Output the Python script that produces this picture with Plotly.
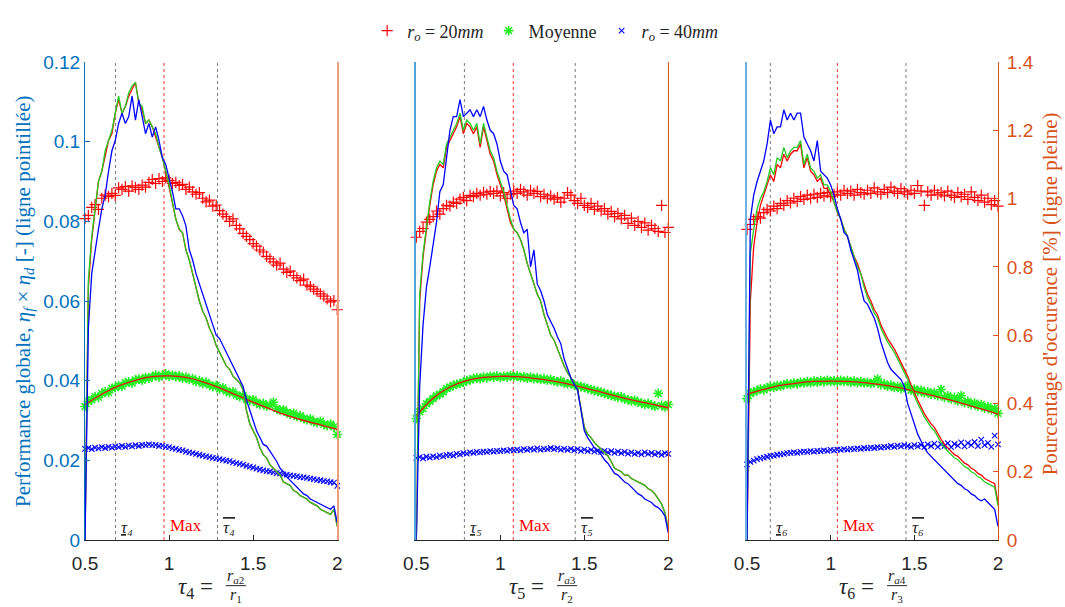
import plotly.graph_objects as go

# Sampling grid of the geometric ratio (common to every curve)
TAU = [round(0.5 + 0.02 * i, 2) for i in range(76)]
FIT_TAU = [0.5, 0.6, 0.7, 0.8, 0.9, 1.0, 1.1, 1.2, 1.3, 1.4, 1.5, 1.6, 1.7, 1.8, 1.9, 2.0]

# ---------------- tau4 = r_a2 / r_1 ----------------
occ20_t4 = [0, 0.74, 0.88, 0.97, 1.05, 1.08, 1.13, 1.17, 1.19, 1.25,
            1.29, 1.25, 1.27, 1.30, 1.32, 1.34, 1.28, 1.26, 1.22, 1.23,
            1.21, 1.18, 1.15, 1.12, 1.08, 1.03, 0.99, 0.94, 0.91, 0.90,
            0.85, 0.82, 0.78, 0.74, 0.70, 0.67, 0.65, 0.62, 0.60, 0.57,
            0.55, 0.53, 0.51, 0.50, 0.48, 0.47, 0.46, 0.44, 0.38, 0.34,
            0.32, 0.30, 0.27, 0.25, 0.24, 0.22, 0.21, 0.20, 0.19, 0.17,
            0.165, 0.16, 0.145, 0.14, 0.13, 0.125, 0.12, 0.11, 0.105, 0.10,
            0.09, 0.085, 0.08, 0.075, 0.09, 0.04]
occmoy_t4 = [0, 0.76, 0.89, 0.98, 1.05, 1.08, 1.14, 1.17, 1.20, 1.25,
             1.30, 1.25, 1.27, 1.31, 1.33, 1.34, 1.28, 1.27, 1.22, 1.23,
             1.21, 1.19, 1.15, 1.12, 1.08, 1.04, 0.99, 0.94, 0.91, 0.90,
             0.85, 0.82, 0.78, 0.74, 0.70, 0.67, 0.65, 0.62, 0.60, 0.57,
             0.55, 0.53, 0.51, 0.50, 0.48, 0.47, 0.46, 0.44, 0.38, 0.34,
             0.32, 0.30, 0.27, 0.25, 0.24, 0.22, 0.21, 0.20, 0.19, 0.17,
             0.165, 0.16, 0.145, 0.14, 0.13, 0.125, 0.12, 0.11, 0.105, 0.10,
             0.09, 0.085, 0.08, 0.075, 0.09, 0.04]
occ40_t4 = [0, 0.62, 0.78, 0.85, 0.91, 0.97, 1.01, 1.08, 1.14, 1.17,
            1.22, 1.25, 1.22, 1.24, 1.30, 1.23, 1.29, 1.24, 1.19, 1.22,
            1.18, 1.21, 1.17, 1.12, 1.10, 1.06, 1.02, 0.97, 0.97, 0.95,
            0.92, 0.85, 0.82, 0.78, 0.75, 0.72, 0.69, 0.66, 0.63, 0.60,
            0.59, 0.57, 0.55, 0.53, 0.51, 0.49, 0.47, 0.45, 0.41, 0.38,
            0.35, 0.32, 0.30, 0.28, 0.275, 0.26, 0.245, 0.23, 0.21, 0.20,
            0.185, 0.175, 0.165, 0.155, 0.145, 0.135, 0.13, 0.12, 0.115, 0.11,
            0.105, 0.10, 0.095, 0.09, 0.10, 0.05]
perf20_t4 = [0.0807, 0.0815, 0.0835, 0.0842, 0.0830, 0.0858, 0.0866, 0.0862, 0.0870, 0.0865,
             0.0884, 0.0880, 0.0887, 0.0876, 0.0889, 0.0885, 0.0880, 0.0891, 0.0886, 0.0898,
             0.0905, 0.0895, 0.0907, 0.0900, 0.0909, 0.0903, 0.0895, 0.0898, 0.0890, 0.0893,
             0.0880, 0.0886, 0.0874, 0.0868, 0.0872, 0.0858, 0.0849, 0.0853, 0.0838, 0.0841,
             0.0827, 0.0818, 0.0812, 0.0800, 0.0806, 0.0790, 0.0781, 0.0770, 0.0762, 0.0754,
             0.0744, 0.0738, 0.0728, 0.0723, 0.0712, 0.0706, 0.0698, 0.0690, 0.0695, 0.0680,
             0.0672, 0.0675, 0.0664, 0.0658, 0.0651, 0.0655, 0.0640, 0.0636, 0.0630, 0.0624,
             0.0618, 0.0612, 0.0605, 0.0598, 0.0601, 0.0578]
perfmoy_t4 = [0.0335, 0.0348, 0.0352, 0.0360, 0.0358, 0.0368, 0.0372, 0.0370, 0.0381, 0.0383,
              0.0388, 0.0386, 0.0395, 0.0397, 0.0394, 0.0402, 0.0404, 0.0401, 0.0408, 0.0406,
              0.0410, 0.0414, 0.0409, 0.0413, 0.0417, 0.0411, 0.0414, 0.0410, 0.0412, 0.0406,
              0.0409, 0.0403, 0.0405, 0.0398, 0.0400, 0.0393, 0.0396, 0.0389, 0.0385, 0.0388,
              0.0379, 0.0382, 0.0374, 0.0370, 0.0372, 0.0364, 0.0360, 0.0362, 0.0354, 0.0350,
              0.0352, 0.0345, 0.0340, 0.0343, 0.0336, 0.0338, 0.0346, 0.0330, 0.0325, 0.0327,
              0.0320, 0.0316, 0.0318, 0.0310, 0.0312, 0.0305, 0.0302, 0.0304, 0.0297, 0.0295,
              0.0298, 0.0290, 0.0287, 0.0291, 0.0284, 0.0265]
perf40_t4 = [0.0229, 0.0231, 0.0228, 0.0232, 0.0230, 0.0233, 0.0231, 0.0234, 0.0232, 0.0235,
             0.0233, 0.0236, 0.0234, 0.0237, 0.0235, 0.0238, 0.0236, 0.0239, 0.0238, 0.0240,
             0.0238, 0.0239, 0.0236, 0.0237, 0.0234, 0.0233, 0.0230, 0.0229, 0.0226, 0.0225,
             0.0222, 0.0220, 0.0218, 0.0216, 0.0214, 0.0212, 0.0210, 0.0208, 0.0206, 0.0205,
             0.0203, 0.0201, 0.0199, 0.0198, 0.0195, 0.0193, 0.0191, 0.0189, 0.0186, 0.0184,
             0.0182, 0.0179, 0.0177, 0.0175, 0.0173, 0.0172, 0.0170, 0.0168, 0.0167, 0.0165,
             0.0164, 0.0162, 0.0161, 0.0160, 0.0158, 0.0157, 0.0156, 0.0154, 0.0153, 0.0151,
             0.0150, 0.0148, 0.0147, 0.0145, 0.0144, 0.0136]
fit_t4 = [0.0340, 0.0366, 0.0387, 0.0401, 0.0410, 0.0412, 0.0408, 0.0397,
          0.0382, 0.0364, 0.0346, 0.0329, 0.0313, 0.0300, 0.0289, 0.0278]

# ---------------- tau5 = r_a3 / r_2 ----------------
occ20_t5 = [0, 0.70, 0.83, 0.91, 0.98, 1.04, 1.08, 1.10, 1.09, 1.15,
            1.17, 1.19, 1.21, 1.24, 1.19, 1.22, 1.21, 1.19, 1.21, 1.15,
            1.21, 1.17, 1.13, 1.11, 1.07, 1.04, 1.01, 0.97, 0.93, 0.91,
            0.90, 0.88, 0.85, 0.81, 0.78, 0.75, 0.72, 0.70, 0.66, 0.63,
            0.60, 0.585, 0.56, 0.53, 0.51, 0.49, 0.475, 0.46, 0.44, 0.38,
            0.33, 0.31, 0.30, 0.285, 0.275, 0.265, 0.255, 0.247, 0.23, 0.21,
            0.205, 0.20, 0.19, 0.19, 0.18, 0.175, 0.17, 0.165, 0.16, 0.15,
            0.145, 0.135, 0.12, 0.105, 0.08, 0.03]
occmoy_t5 = [0, 0.72, 0.84, 0.92, 0.99, 1.05, 1.09, 1.11, 1.10, 1.16,
             1.18, 1.20, 1.22, 1.25, 1.20, 1.23, 1.22, 1.20, 1.22, 1.16,
             1.22, 1.18, 1.14, 1.12, 1.08, 1.05, 1.02, 0.98, 0.94, 0.91,
             0.90, 0.88, 0.85, 0.81, 0.78, 0.75, 0.72, 0.70, 0.66, 0.63,
             0.60, 0.585, 0.56, 0.53, 0.51, 0.49, 0.475, 0.46, 0.44, 0.38,
             0.33, 0.31, 0.30, 0.285, 0.275, 0.265, 0.255, 0.247, 0.23, 0.21,
             0.205, 0.20, 0.19, 0.19, 0.18, 0.175, 0.17, 0.165, 0.16, 0.15,
             0.145, 0.135, 0.12, 0.105, 0.08, 0.03]
occ40_t5 = [0, 0.45, 0.63, 0.74, 0.80, 0.86, 0.93, 1.02, 1.04, 1.12,
            1.20, 1.24, 1.24, 1.29, 1.24, 1.25, 1.26, 1.24, 1.26, 1.24,
            1.27, 1.23, 1.20, 1.19, 1.16, 1.11, 1.08, 1.07, 1.02, 0.98,
            0.97, 0.93, 0.90, 0.91, 0.80, 0.85, 0.75, 0.73, 0.70, 0.66,
            0.64, 0.62, 0.595, 0.575, 0.53, 0.50, 0.475, 0.455, 0.44, 0.38,
            0.32, 0.30, 0.285, 0.27, 0.26, 0.25, 0.235, 0.225, 0.21, 0.195,
            0.19, 0.18, 0.17, 0.165, 0.155, 0.145, 0.135, 0.13, 0.12, 0.115,
            0.11, 0.10, 0.095, 0.085, 0.07, 0.02]
perf20_t5 = [0.0760, 0.0775, 0.0782, 0.0798, 0.0805, 0.0812, 0.0826, 0.0818, 0.0832, 0.0840,
             0.0838, 0.0848, 0.0845, 0.0856, 0.0860, 0.0852, 0.0865, 0.0862, 0.0870, 0.0866,
             0.0873, 0.0868, 0.0875, 0.0870, 0.0876, 0.0864, 0.0872, 0.0858, 0.0868, 0.0876,
             0.0870, 0.0880, 0.0874, 0.0866, 0.0878, 0.0870, 0.0875, 0.0862, 0.0868, 0.0858,
             0.0864, 0.0856, 0.0860, 0.0848, 0.0858, 0.0872, 0.0866, 0.0852, 0.0845, 0.0858,
             0.0840, 0.0835, 0.0845, 0.0830, 0.0838, 0.0826, 0.0832, 0.0818, 0.0825, 0.0812,
             0.0820, 0.0806, 0.0815, 0.0795, 0.0808, 0.0790, 0.0800, 0.0785, 0.0796, 0.0778,
             0.0790, 0.0782, 0.0775, 0.0840, 0.0772, 0.0785]
perfmoy_t5 = [0.0305, 0.0322, 0.0330, 0.0342, 0.0348, 0.0355, 0.0362, 0.0366, 0.0372, 0.0380,
              0.0384, 0.0388, 0.0391, 0.0393, 0.0396, 0.0400, 0.0402, 0.0405, 0.0407, 0.0405,
              0.0409, 0.0407, 0.0411, 0.0409, 0.0412, 0.0408, 0.0411, 0.0409, 0.0413, 0.0410,
              0.0412, 0.0408, 0.0410, 0.0406, 0.0409, 0.0405, 0.0407, 0.0403, 0.0405, 0.0401,
              0.0403, 0.0399, 0.0397, 0.0399, 0.0394, 0.0392, 0.0394, 0.0389, 0.0387, 0.0385,
              0.0383, 0.0380, 0.0378, 0.0375, 0.0373, 0.0371, 0.0368, 0.0366, 0.0363, 0.0361,
              0.0358, 0.0360, 0.0354, 0.0352, 0.0349, 0.0351, 0.0346, 0.0344, 0.0340, 0.0343,
              0.0339, 0.0336, 0.0368, 0.0338, 0.0334, 0.0340]
perf40_t5 = [0.0206, 0.0208, 0.0205, 0.0209, 0.0207, 0.0210, 0.0208, 0.0212, 0.0210, 0.0213,
             0.0214, 0.0212, 0.0216, 0.0215, 0.0218, 0.0217, 0.0220, 0.0219, 0.0221, 0.0220,
             0.0222, 0.0221, 0.0223, 0.0222, 0.0224, 0.0223, 0.0225, 0.0224, 0.0226, 0.0225,
             0.0227, 0.0225, 0.0228, 0.0226, 0.0229, 0.0227, 0.0230, 0.0227, 0.0229, 0.0228,
             0.0231, 0.0228, 0.0230, 0.0227, 0.0229, 0.0226, 0.0229, 0.0225, 0.0228, 0.0224,
             0.0227, 0.0223, 0.0226, 0.0222, 0.0225, 0.0221, 0.0224, 0.0220, 0.0223, 0.0219,
             0.0222, 0.0218, 0.0221, 0.0217, 0.0220, 0.0216, 0.0219, 0.0215, 0.0220, 0.0216,
             0.0219, 0.0215, 0.0218, 0.0214, 0.0218, 0.0216]
fit_t5 = [0.0312, 0.0356, 0.0384, 0.0400, 0.0408, 0.0411, 0.0410, 0.0406,
          0.0400, 0.0392, 0.0382, 0.0371, 0.0360, 0.0350, 0.0341, 0.0332]

# ---------------- tau6 = r_a4 / r_3 ----------------
occ20_t6 = [0, 0.70, 0.86, 0.93, 0.98, 1.01, 1.04, 1.07, 1.05, 1.10,
            1.09, 1.13, 1.11, 1.13, 1.14, 1.14, 1.16, 1.09, 1.12, 1.08,
            1.07, 1.05, 1.06, 1.03, 1.03, 1.01, 0.99, 0.96, 0.94, 0.91,
            0.89, 0.86, 0.83, 0.81, 0.78, 0.75, 0.72, 0.70, 0.675, 0.66,
            0.63, 0.61, 0.59, 0.575, 0.56, 0.54, 0.52, 0.50, 0.48, 0.455,
            0.43, 0.41, 0.39, 0.37, 0.355, 0.34, 0.33, 0.31, 0.295, 0.28,
            0.27, 0.26, 0.25, 0.245, 0.235, 0.225, 0.22, 0.21, 0.205, 0.195,
            0.19, 0.18, 0.175, 0.17, 0.165, 0.11]
occmoy_t6 = [0, 0.84, 0.91, 0.97, 1.00, 1.02, 1.05, 1.09, 1.07, 1.12,
             1.11, 1.15, 1.12, 1.14, 1.15, 1.15, 1.17, 1.10, 1.13, 1.09,
             1.08, 1.06, 1.07, 1.04, 1.04, 1.02, 0.99, 0.96, 0.94, 0.91,
             0.89, 0.86, 0.83, 0.80, 0.78, 0.74, 0.71, 0.69, 0.665, 0.65,
             0.62, 0.60, 0.58, 0.565, 0.55, 0.53, 0.51, 0.49, 0.47, 0.445,
             0.42, 0.40, 0.38, 0.36, 0.345, 0.33, 0.32, 0.30, 0.285, 0.27,
             0.26, 0.25, 0.24, 0.235, 0.225, 0.215, 0.21, 0.20, 0.195, 0.185,
             0.18, 0.17, 0.165, 0.16, 0.155, 0.10]
occ40_t6 = [0, 0.94, 1.01, 1.05, 1.08, 1.11, 1.16, 1.23, 1.19, 1.21,
            1.21, 1.26, 1.23, 1.25, 1.23, 1.25, 1.25, 1.18, 1.16, 1.14,
            1.11, 1.17, 1.08, 1.07, 1.06, 1.04, 1.01, 0.97, 0.94, 0.90,
            0.89, 0.85, 0.82, 0.79, 0.74, 0.70, 0.69, 0.67, 0.65, 0.62,
            0.58, 0.55, 0.52, 0.50, 0.49, 0.48, 0.47, 0.45, 0.40, 0.37,
            0.34, 0.31, 0.29, 0.27, 0.255, 0.245, 0.235, 0.225, 0.215, 0.205,
            0.195, 0.185, 0.175, 0.165, 0.16, 0.15, 0.145, 0.135, 0.13, 0.12,
            0.115, 0.12, 0.11, 0.10, 0.09, 0.04]
perf20_t6 = [0.0780, 0.0792, 0.0805, 0.0812, 0.0808, 0.0822, 0.0830, 0.0826, 0.0838, 0.0832,
             0.0845, 0.0840, 0.0852, 0.0846, 0.0858, 0.0850, 0.0862, 0.0855, 0.0866, 0.0858,
             0.0868, 0.0860, 0.0870, 0.0864, 0.0872, 0.0862, 0.0868, 0.0874, 0.0866, 0.0878,
             0.0870, 0.0876, 0.0866, 0.0880, 0.0872, 0.0868, 0.0878, 0.0870, 0.0884, 0.0874,
             0.0868, 0.0880, 0.0872, 0.0886, 0.0876, 0.0870, 0.0882, 0.0874, 0.0868, 0.0878,
             0.0870, 0.0890, 0.0876, 0.0840, 0.0874, 0.0866, 0.0878, 0.0868, 0.0872, 0.0864,
             0.0876, 0.0866, 0.0860, 0.0872, 0.0862, 0.0868, 0.0855, 0.0874, 0.0860, 0.0852,
             0.0866, 0.0848, 0.0858, 0.0842, 0.0852, 0.0838]
perfmoy_t6 = [0.0355, 0.0368, 0.0372, 0.0375, 0.0379, 0.0377, 0.0382, 0.0385, 0.0383, 0.0388,
              0.0386, 0.0390, 0.0392, 0.0390, 0.0394, 0.0392, 0.0396, 0.0394, 0.0398, 0.0395,
              0.0399, 0.0396, 0.0400, 0.0397, 0.0401, 0.0398, 0.0400, 0.0397, 0.0401, 0.0398,
              0.0400, 0.0396, 0.0399, 0.0395, 0.0398, 0.0394, 0.0396, 0.0393, 0.0395, 0.0404,
              0.0390, 0.0392, 0.0386, 0.0389, 0.0383, 0.0386, 0.0380, 0.0383, 0.0386, 0.0376,
              0.0379, 0.0373, 0.0376, 0.0369, 0.0372, 0.0366, 0.0370, 0.0362, 0.0378, 0.0358,
              0.0362, 0.0354, 0.0358, 0.0349, 0.0362, 0.0345, 0.0348, 0.0340, 0.0344, 0.0336,
              0.0340, 0.0331, 0.0335, 0.0327, 0.0331, 0.0318]
perf40_t6 = [0.0190, 0.0196, 0.0199, 0.0203, 0.0205, 0.0207, 0.0209, 0.0211, 0.0212, 0.0214,
             0.0215, 0.0216, 0.0218, 0.0219, 0.0220, 0.0219, 0.0221, 0.0222, 0.0221, 0.0223,
             0.0222, 0.0224, 0.0223, 0.0225, 0.0224, 0.0226, 0.0225, 0.0227, 0.0226, 0.0228,
             0.0227, 0.0229, 0.0228, 0.0230, 0.0229, 0.0231, 0.0230, 0.0232, 0.0231, 0.0233,
             0.0232, 0.0234, 0.0233, 0.0236, 0.0234, 0.0237, 0.0235, 0.0238, 0.0236, 0.0234,
             0.0238, 0.0235, 0.0239, 0.0233, 0.0240, 0.0236, 0.0242, 0.0234, 0.0240, 0.0236,
             0.0243, 0.0233, 0.0241, 0.0237, 0.0245, 0.0235, 0.0243, 0.0238, 0.0246, 0.0236,
             0.0252, 0.0238, 0.0244, 0.0234, 0.0262, 0.0240]
fit_t6 = [0.0366, 0.0378, 0.0388, 0.0394, 0.0398, 0.0399, 0.0398, 0.0395,
          0.0390, 0.0383, 0.0374, 0.0364, 0.0353, 0.0341, 0.0329, 0.0316]

# Characteristic ratios marked by vertical lines: (lower, max, upper)
MARKS = [(0.681, 0.970, 1.288), (0.786, 1.077, 1.446), (0.639, 1.040, 1.450)]
SUBSCRIPTS = ["4", "5", "6"]
SUB_GLYPHS = ["₄", "₅", "₆"]
NUMERATORS = ["a2", "a3", "a4"]
DENOMINATORS = ["1", "2", "3"]

BLUE_AX = "#0072BD"
ORANGE_AX = "#D95319"
DARK = "#262626"
SERIF = "Liberation Serif, DejaVu Serif, serif"
SANS = "Liberation Sans, Arial, sans-serif"

panels = [
    dict(occ=(occ20_t4, occmoy_t4, occ40_t4), perf=(perf20_t4, perfmoy_t4, perf40_t4), fit=fit_t4,
         xa="x", yl="y", yr="y2"),
    dict(occ=(occ20_t5, occmoy_t5, occ40_t5), perf=(perf20_t5, perfmoy_t5, perf40_t5), fit=fit_t5,
         xa="x2", yl="y3", yr="y4"),
    dict(occ=(occ20_t6, occmoy_t6, occ40_t6), perf=(perf20_t6, perfmoy_t6, perf40_t6), fit=fit_t6,
         xa="x3", yl="y5", yr="y6"),
]

legend_names = ["<i>r<sub>o</sub></i> = 20<i>mm</i>", "Moyenne", "<i>r<sub>o</sub></i> = 40<i>mm</i>"]
marker_styles = [
    dict(symbol="cross-thin-open", size=8, color="#FF0000", line=dict(color="#FF0000", width=1.2)),
    dict(symbol="asterisk-open", size=8, color="#22EE22", line=dict(color="#22EE22", width=1.6)),
    dict(symbol="x-thin-open", size=5.5, color="#0000FF", line=dict(color="#0000FF", width=1.1)),
]
line_colors = ["#FF0000", "#22CC22", "#0000FF"]

fig = go.Figure()

for k, p in enumerate(panels):
    # performance markers (left scale)
    for j in range(3):
        fig.add_trace(go.Scatter(
            x=TAU, y=p["perf"][j], mode="markers", name=legend_names[j],
            marker=marker_styles[j], xaxis=p["xa"], yaxis=p["yl"],
            showlegend=(k == 0), legendrank=j + 1, cliponaxis=False))
    # polynomial trend of the mean performance
    fig.add_trace(go.Scatter(
        x=FIT_TAU, y=p["fit"], mode="lines", line=dict(color="#E8100A", width=1.3, shape="spline"),
        xaxis=p["xa"], yaxis=p["yl"], showlegend=False))
    # occurrence curves (right scale)
    for j in range(3):
        fig.add_trace(go.Scatter(
            x=TAU, y=p["occ"][j], mode="lines", line=dict(color=line_colors[j], width=1.3),
            xaxis=p["xa"], yaxis=p["yr"], showlegend=False))

domains = [[0.0, 0.2763], [0.3629, 0.6389], [0.7251, 1.0]]

def x_axis(dom, anchor):
    return dict(domain=dom, anchor=anchor, range=[0.5, 2], tickvals=[0.5, 1, 1.5, 2],
                ticktext=["0.5", "1", "1.5", "2"], ticks="inside", ticklen=5, tickcolor=DARK,
                showline=True, linecolor=DARK, linewidth=1, showgrid=False, zeroline=False,
                tickfont=dict(family=SANS, size=19, color=DARK), ticklabelstandoff=6)

def left_axis(anchor, visible, color, width):
    d = dict(anchor=anchor, range=[0, 0.12], showline=True, linecolor=color, linewidth=width,
             showgrid=False, zeroline=False)
    if visible:
        d.update(dtick=0.02, tick0=0, ticks="inside", ticklen=5, tickcolor=color,
                 tickfont=dict(family=SANS, size=19, color=color))
    else:
        d.update(showticklabels=False, ticks="")
    return d

def right_axis(anchor, over, visible, color, width):
    d = dict(anchor=anchor, overlaying=over, side="right", range=[0, 1.4], showline=True,
             linecolor=color, linewidth=width, showgrid=False, zeroline=False)
    if visible:
        d.update(dtick=0.2, tick0=0, ticks="inside", ticklen=5, tickcolor=color,
                 tickfont=dict(family=SANS, size=19, color=color), ticklabelstandoff=4)
    else:
        d.update(showticklabels=False, ticks="")
    return d

fig.update_layout(
    xaxis=x_axis(domains[0], "y"),
    xaxis2=x_axis(domains[1], "y3"),
    xaxis3=x_axis(domains[2], "y5"),
    yaxis=left_axis("x", True, BLUE_AX, 1),
    yaxis2=right_axis("x", "y", False, "#EE9E7C", 2),
    yaxis3=left_axis("x2", False, "#4FA3DB", 2),
    yaxis4=right_axis("x2", "y3", False, ORANGE_AX, 1),
    yaxis5=left_axis("x3", False, "#6BB0E0", 2),
    yaxis6=right_axis("x3", "y5", True, ORANGE_AX, 1),
)

shapes = []
annotations = []
for k, (lo, mx, hi) in enumerate(MARKS):
    xref = panels[k]["xa"]
    for xv, col in ((lo, "#7A7A7A"), (mx, "#FF3030"), (hi, "#7A7A7A")):
        shapes.append(dict(type="line", xref=xref, yref="paper", x0=xv, x1=xv, y0=0, y1=1,
                           line=dict(color=col, width=1, dash="dot"), layer="below"))
    s = SUBSCRIPTS[k]
    g = SUB_GLYPHS[k]
    annotations += [
        dict(xref=xref, yref="paper", x=lo + 0.022, y=0.026, xanchor="left", yanchor="middle",
             text=f"<span style='text-decoration:underline;font-style:italic'>τ{g}</span>",
             showarrow=False, font=dict(family=SERIF, size=17, color=DARK)),
        dict(xref=xref, yref="paper", x=mx + 0.022, y=0.03, xanchor="left", yanchor="middle",
             text="Max", showarrow=False, font=dict(family=SERIF, size=17, color="#FF0000")),
        dict(xref=xref, yref="paper", x=hi + 0.022, y=0.026, xanchor="left", yanchor="middle",
             text=f"<span style='text-decoration:overline;font-style:italic'>τ{g}</span>",
             showarrow=False, font=dict(family=SERIF, size=17, color=DARK)),
        # x-axis title: tau_k = r_a / r
        dict(xref=xref, yref="paper", x=1.155, y=-0.0996, xanchor="center", yanchor="middle",
             text=f"<i>τ</i><sub>{s}</sub> =", showarrow=False,
             font=dict(family=SERIF, size=23, color=DARK)),
        dict(xref=xref, yref="paper", x=1.397, y=-0.077, xanchor="center", yanchor="middle",
             text=f"<i>r</i><sub><i>{NUMERATORS[k][0]}</i>{NUMERATORS[k][1]}</sub>", showarrow=False,
             font=dict(family=SERIF, size=16, color=DARK)),
        dict(xref=xref, yref="paper", x=1.397, y=-0.117, xanchor="center", yanchor="middle",
             text=f"<i>r</i><sub>{DENOMINATORS[k]}</sub>", showarrow=False,
             font=dict(family=SERIF, size=16, color=DARK)),
    ]
    shapes.append(dict(type="line", xref=xref, yref="paper", x0=1.337, x1=1.457,
                       y0=-0.0955, y1=-0.0955, line=dict(color=DARK, width=1)))

annotations += [
    dict(xref="paper", yref="paper", x=-0.0668, y=0.5, textangle=-90, showarrow=False,
         xanchor="center", yanchor="middle",
         text="Performance globale, <i>η<sub>f</sub></i> × <i>η<sub>d</sub></i> [-] (ligne pointillée)",
         font=dict(family=SERIF, size=21, color=BLUE_AX)),
    dict(xref="paper", yref="paper", x=1.057, y=0.514, textangle=-90, showarrow=False,
         xanchor="center", yanchor="middle",
         text="Pourcentage d'occurence [%] (ligne pleine)",
         font=dict(family=SERIF, size=21, color=ORANGE_AX)),
]

fig.update_layout(
    width=1065, height=607,
    margin=dict(l=85, r=67, t=48, b=67),
    paper_bgcolor="white", plot_bgcolor="white",
    shapes=shapes, annotations=annotations,
    legend=dict(orientation="h", x=0.504, y=1.065, xanchor="center", yanchor="middle",
                font=dict(family=SERIF, size=18, color=DARK), bgcolor="rgba(0,0,0,0)",
                traceorder="normal"),
)

fig.write_html("out.html")
